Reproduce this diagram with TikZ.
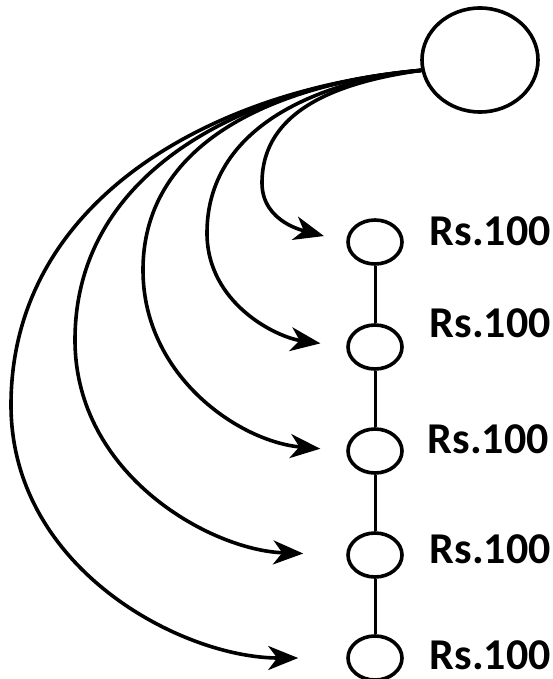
\documentclass[tikz,border=0pt]{standalone}
\usepackage{fontspec}
\setmainfont{Carlito}
\usetikzlibrary{shapes.geometric,arrows.meta}
\tikzset{>={Stealth[length=30pt,width=24pt,inset=9pt]}}

\begin{document}
\begin{tikzpicture}[x=1pt,y=1pt,line width=3.6pt,
    bigcirc/.style={draw,ellipse,minimum width=116pt,minimum height=104pt,inner sep=0pt},
    smallcirc/.style={draw,ellipse,minimum width=54pt,minimum height=44pt,inner sep=0pt},
    lbl/.style={anchor=base west,inner sep=0pt,font=\fontsize{44}{50}\selectfont\bfseries}]
  \useasboundingbox (0,0) rectangle (553,-679);
  % source and the chain of payments
  \node[bigcirc] (src) at (480,-60) {};
  \foreach \i/\y in {1/242,2/347,3/451,4/555,5/658}
    \node[smallcirc] (c\i) at (375,-\y) {};
  \draw[line width=3pt] (c1) -- (c2); \draw[line width=3pt] (c2) -- (c3);
  \draw[line width=3pt] (c3) -- (c4); \draw[line width=3pt] (c4) -- (c5);
  \node[lbl] (r1) at (428,-245) {Rs.100};
  \node[lbl] (r2) at (428,-337) {Rs.100};
  \node[lbl] (r3) at (426,-453) {Rs.100};
  \node[lbl] (r4) at (428,-563) {Rs.100};
  \node[lbl] (r5) at (428,-669) {Rs.100};
  % bends of the arrows
  \coordinate (bend1) at (262,-183);
  \coordinate (bend2) at (207,-233);
  \coordinate (bend3) at (143,-270);
  \coordinate (bend4) at (75,-340);
  \coordinate (bend5) at (11,-405);
  \draw[->,shorten >=23pt] (src.190) to[out=188,in=90] (bend1) to[out=270,in=165] (c1.west);
  \draw[->,shorten >=26pt] (src.190) to[out=186,in=90] (bend2) to[out=270,in=172] (c2.west);
  \draw[->,shorten >=26pt] (src.190) to[out=185,in=90] (bend3) to[out=270,in=175] (c3.west);
  \draw[->,shorten >=43pt] (src.190) to[out=185,in=90] (bend4) to[out=270,in=178] (c4.west);
  \draw[->,shorten >=48pt] (src.190) to[out=185,in=90] (bend5) to[out=270,in=180] (c5.west);
\end{tikzpicture}
\end{document}
